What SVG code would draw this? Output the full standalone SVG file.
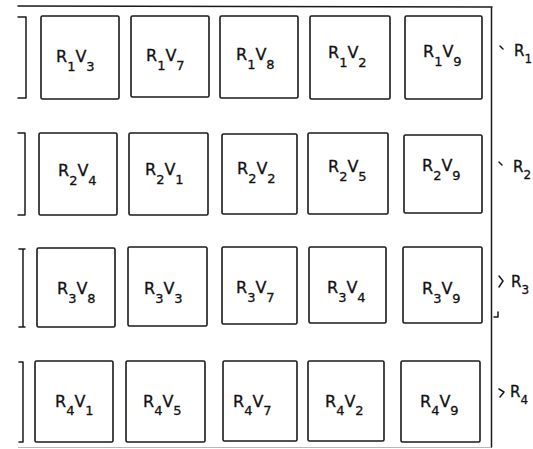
<svg xmlns="http://www.w3.org/2000/svg" width="533" height="449" viewBox="0 0 533 449">
<style>
.box{fill:none;stroke:#1a1a1a;stroke-width:1.6}
.ln{fill:none;stroke:#1a1a1a;stroke-width:1.5;stroke-linecap:round;stroke-linejoin:round}
.faint{fill:none;stroke:#b8b8b8;stroke-width:1.2}
text{font-family:"DejaVu Sans","Liberation Sans",Arial,sans-serif;fill:#111;stroke:#111;stroke-width:0.3;font-size:16px}
.s{font-size:13px}
.side{font-size:15px}
.sides{font-size:12px}
</style>
<rect width="533" height="449" fill="#fff"/>
<g id="frame">
<path class="ln" d="M18,6 L492,7 M491.5,7 V447"/>
<path class="faint" d="M18,447.5 H491"/>
<path class="ln" d="M18,17 H26 V98 H18"/>
<path class="ln" d="M18,133 H25 V215 H18"/>
<path class="ln" d="M19,249 H25 M23,249 V327 M19,327 H25"/>
<path class="ln" d="M19,362 H23 V442 H19"/>
</g>
<g id="row1">
<g id="r1v3"><rect class="box" x="41" y="16" width="78" height="83" rx="1.5"/><text x="56" y="62">R<tspan class="s" dy="8.5">1</tspan><tspan dy="-8.5">V</tspan><tspan class="s" dy="8.5">3</tspan></text></g>
<g id="r1v7"><rect class="box" x="131" y="16" width="78" height="81" rx="1.5"/><text x="146" y="61">R<tspan class="s" dy="8.5">1</tspan><tspan dy="-8.5">V</tspan><tspan class="s" dy="8.5">7</tspan></text></g>
<g id="r1v8"><rect class="box" x="220" y="16" width="78" height="82" rx="1.5"/><text x="236" y="60">R<tspan class="s" dy="8.5">1</tspan><tspan dy="-8.5">V</tspan><tspan class="s" dy="8.5">8</tspan></text></g>
<g id="r1v2"><rect class="box" x="310" y="16" width="80" height="83" rx="1.5"/><text x="328" y="58">R<tspan class="s" dy="8.5">1</tspan><tspan dy="-8.5">V</tspan><tspan class="s" dy="8.5">2</tspan></text></g>
<g id="r1v9"><rect class="box" x="405" y="16" width="77" height="83" rx="1.5"/><text x="423" y="57">R<tspan class="s" dy="8.5">1</tspan><tspan dy="-8.5">V</tspan><tspan class="s" dy="8.5">9</tspan></text></g>
</g>
<g id="row2">
<g id="r2v4"><rect class="box" x="39" y="133" width="78" height="82" rx="1.5"/><text x="58" y="176">R<tspan class="s" dy="9">2</tspan><tspan dy="-9">V</tspan><tspan class="s" dy="9">4</tspan></text></g>
<g id="r2v1"><rect class="box" x="129" y="133" width="79" height="82" rx="1.5"/><text x="145" y="175">R<tspan class="s" dy="9">2</tspan><tspan dy="-9">V</tspan><tspan class="s" dy="9">1</tspan></text></g>
<g id="r2v2"><rect class="box" x="222" y="134" width="75" height="80" rx="1.5"/><text x="237" y="174">R<tspan class="s" dy="9">2</tspan><tspan dy="-9">V</tspan><tspan class="s" dy="9">2</tspan></text></g>
<g id="r2v5"><rect class="box" x="308" y="133" width="80" height="81" rx="1.5"/><text x="328" y="172">R<tspan class="s" dy="9">2</tspan><tspan dy="-9">V</tspan><tspan class="s" dy="9">5</tspan></text></g>
<g id="r2v9"><rect class="box" x="404" y="135" width="78" height="78" rx="1.5"/><text x="422" y="171">R<tspan class="s" dy="9">2</tspan><tspan dy="-9">V</tspan><tspan class="s" dy="9">9</tspan></text></g>
</g>
<g id="row3">
<g id="r3v8"><rect class="box" x="37" y="248" width="78" height="79" rx="1.5"/><text x="57" y="294">R<tspan class="s" dy="9">3</tspan><tspan dy="-9">V</tspan><tspan class="s" dy="9">8</tspan></text></g>
<g id="r3v3"><rect class="box" x="128" y="247" width="79" height="79" rx="1.5"/><text x="144" y="294">R<tspan class="s" dy="9">3</tspan><tspan dy="-9">V</tspan><tspan class="s" dy="9">3</tspan></text></g>
<g id="r3v7"><rect class="box" x="222" y="247" width="75" height="77" rx="1.5"/><text x="236" y="293">R<tspan class="s" dy="9">3</tspan><tspan dy="-9">V</tspan><tspan class="s" dy="9">7</tspan></text></g>
<g id="r3v4"><rect class="box" x="309" y="247" width="77" height="76" rx="1.5"/><text x="327" y="293">R<tspan class="s" dy="9">3</tspan><tspan dy="-9">V</tspan><tspan class="s" dy="9">4</tspan></text></g>
<g id="r3v9"><rect class="box" x="403" y="247" width="79" height="76" rx="1.5"/><text x="422" y="294">R<tspan class="s" dy="9">3</tspan><tspan dy="-9">V</tspan><tspan class="s" dy="9">9</tspan></text></g>
</g>
<g id="row4">
<g id="r4v1"><rect class="box" x="35" y="361" width="78" height="81" rx="1.5"/><text x="55" y="407">R<tspan class="s" dy="8">4</tspan><tspan dy="-8">V</tspan><tspan class="s" dy="8">1</tspan></text></g>
<g id="r4v5"><rect class="box" x="126" y="361" width="79" height="81" rx="1.5"/><text x="143" y="407">R<tspan class="s" dy="8">4</tspan><tspan dy="-8">V</tspan><tspan class="s" dy="8">5</tspan></text></g>
<g id="r4v7"><rect class="box" x="223" y="361" width="74" height="80" rx="1.5"/><text x="233" y="407">R<tspan class="s" dy="8">4</tspan><tspan dy="-8">V</tspan><tspan class="s" dy="8">7</tspan></text></g>
<g id="r4v2"><rect class="box" x="308" y="361" width="76" height="80" rx="1.5"/><text x="325" y="407">R<tspan class="s" dy="8">4</tspan><tspan dy="-8">V</tspan><tspan class="s" dy="8">2</tspan></text></g>
<g id="r4v9"><rect class="box" x="401" y="361" width="79" height="81" rx="1.5"/><text x="420" y="407">R<tspan class="s" dy="8">4</tspan><tspan dy="-8">V</tspan><tspan class="s" dy="8">9</tspan></text></g>
</g>
<g id="row-labels">
<path class="ln" d="M500,46 L503,49"/>
<path class="ln" d="M499,162 L502,165"/>
<path class="ln" d="M499,276 L503,281 L499,287 M498,312 V317 H494"/>
<path class="ln" d="M499,389 L504,392 L500,397"/>
<text class="side" x="514" y="56">R<tspan class="sides" dy="7">1</tspan></text>
<text class="side" x="513" y="172">R<tspan class="sides" dy="7">2</tspan></text>
<text class="side" x="511" y="287">R<tspan class="sides" dy="7">3</tspan></text>
<text class="side" x="510" y="397">R<tspan class="sides" dy="7">4</tspan></text>
</g>
</svg>
